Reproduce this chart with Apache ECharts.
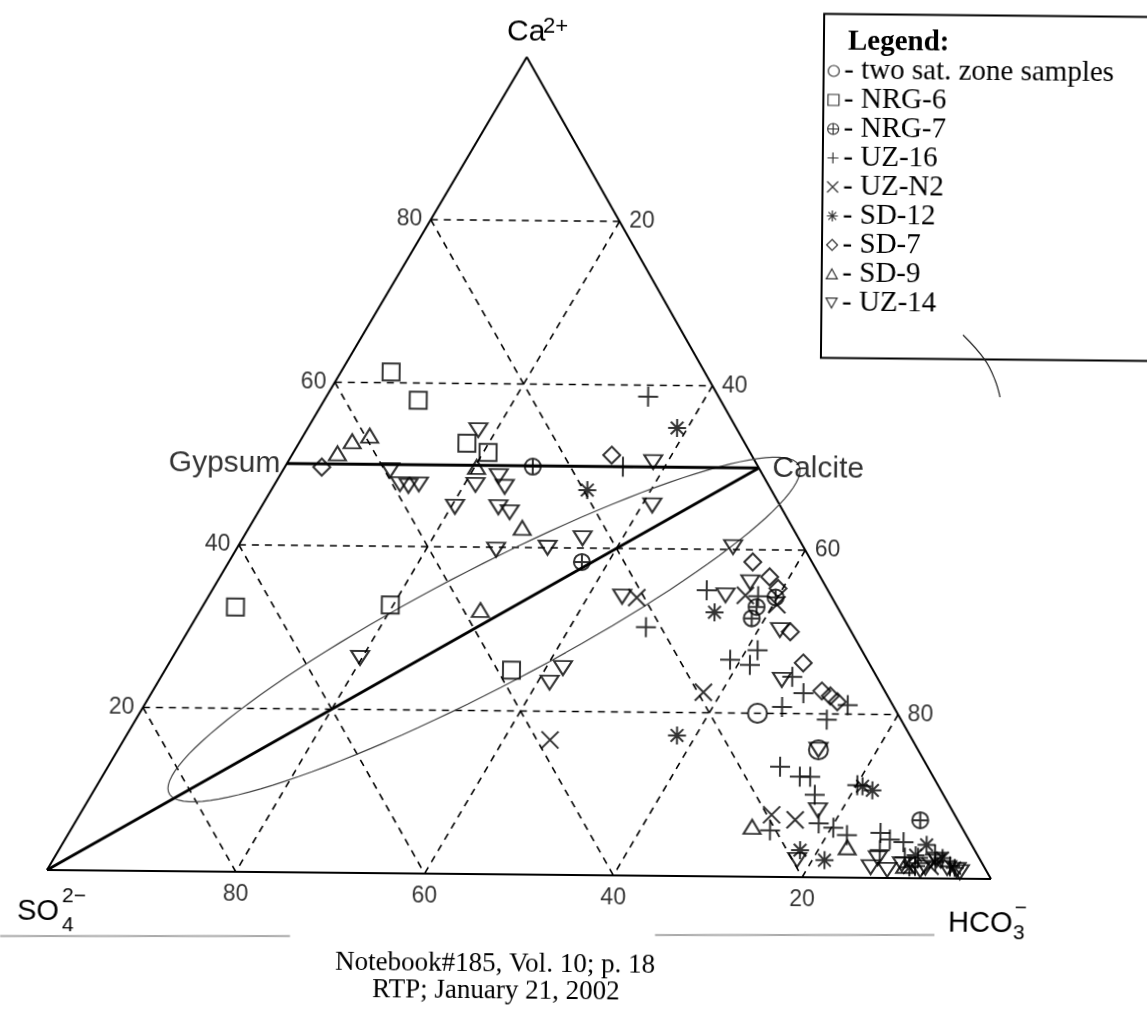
<!DOCTYPE html>
<html><head><meta charset="utf-8">
<script src="https://cdn.jsdelivr.net/npm/echarts@6/dist/echarts.min.js"></script>
<style>html,body{margin:0;padding:0;background:#fff;overflow:hidden}
#c{width:1147px;height:1010px;transform:rotate(0.546deg);transform-origin:47px 870px}</style>
</head><body><div id="c"></div>
<script>
// ---- data: ternary triples [Ca, SO4, HCO3] in % ----
const gridLevels = [20, 40, 60, 80];
const leftTickLabels = ['20', '40', '60', '80'];   // Ca on the left edge
const rightTickLabels = ['20', '40', '60', '80'];  // HCO3 on the right edge
const bottomTickLabels = ['20', '40', '60', '80']; // SO4 on the base
const seriesNames = ['two sat. zone samples', 'NRG-6', 'NRG-7', 'UZ-16', 'UZ-N2', 'SD-12', 'SD-7', 'SD-9', 'UZ-14'];
const satZone = [[20.0,14.9,65.1],[15.6,10.6,73.8]];
const nrg6 = [[61.3,33.4,5.3],[57.9,32.2,9.9],[52.7,29.6,17.7],[51.6,27.9,20.5],[32.4,64.1,3.5],[32.8,47.5,19.7],[25.0,38.5,36.5]];
const nrg7 = [[49.9,24.0,26.1],[38.3,24.5,37.2],[34.2,6.0,59.8],[33.0,8.6,58.4],[31.6,9.8,58.6],[7.1,4.0,88.9]];
const uz16 = [[58.6,7.5,33.9],[50.0,14.4,35.6],[30.4,21.6,48.0],[35.0,12.9,52.1],[34.3,7.8,57.9],[27.7,11.1,61.2],[26.5,14.6,58.9],[25.9,12.8,61.3],[24.5,9.0,66.5],[22.5,8.8,68.7],[20.8,11.9,67.3],[21.1,4.8,74.1],[19.3,7.9,72.8],[13.5,15.7,70.8],[12.3,14.2,73.5],[12.3,13.1,74.6],[10.1,13.7,76.2],[6.6,15.0,78.4],[5.7,20.6,73.7],[6.1,13.7,80.2],[5.2,12.7,82.1],[11.3,8.6,80.1],[5.5,9.0,85.5],[4.7,8.4,86.9],[4.4,7.1,88.5],[3.4,10.1,86.5],[2.5,6.5,91.0],[2.9,4.5,92.6],[2.5,7.9,89.6],[1.5,7.3,91.2],[1.5,3.6,94.9]];
const uzN2 = [[34.0,20.8,45.2],[22.5,19.4,58.1],[16.5,38.6,44.9],[34.4,9.1,56.5],[7.6,19.5,72.9],[7.0,17.3,75.7],[33.3,6.3,60.4],[1.5,5.7,92.8]];
const sd12 = [[54.8,6.3,38.9],[47.1,19.6,33.3],[32.3,13.4,54.3],[17.2,24.8,58.0],[11.2,8.1,80.7],[10.7,7.3,82.0],[3.3,18.6,78.1],[2.1,16.6,81.3],[4.1,4.8,91.1],[2.0,4.9,93.1],[1.3,8.0,90.7],[2.8,6.6,90.6],[2.5,3.9,93.6],[1.3,3.2,95.5]];
const sd7 = [[49.6,46.5,3.9],[51.4,14.9,33.7],[38.5,6.3,55.2],[36.7,5.4,57.9],[30.0,6.5,63.5],[26.2,7.0,66.8],[22.8,6.7,70.5],[22.2,6.1,71.7],[21.5,5.7,72.8],[35.3,5.2,59.5]];
const sd9 = [[51.3,44.0,4.7],[52.8,41.7,5.5],[53.5,39.5,7.0],[49.8,30.0,20.2],[42.4,28.8,28.8],[32.3,38.2,29.5],[6.1,22.3,71.6],[3.7,13.4,82.9],[1.5,8.4,90.1]];
const uz14 = [[54.3,27.6,18.1],[49.3,39.4,11.3],[47.6,39.2,13.2],[47.4,38.4,14.2],[47.6,37.2,15.2],[47.6,31.2,21.2],[48.7,28.2,23.1],[47.4,28.2,24.4],[44.9,34.7,20.4],[44.9,30.1,25.0],[44.3,29.2,26.5],[39.7,32.9,27.4],[40.0,27.3,32.7],[41.2,23.0,35.8],[50.6,10.9,38.5],[45.3,13.6,41.1],[34.1,22.3,43.6],[26.3,53.9,19.8],[25.3,32.9,41.8],[23.5,35.2,41.3],[40.3,7.5,52.2],[36.0,7.8,56.2],[34.4,11.2,54.4],[30.2,7.5,62.3],[24.1,10.3,65.6],[15.6,10.6,73.8],[8.2,14.3,77.5],[2.1,19.5,78.4],[1.3,12.1,86.6],[1.0,10.5,88.5],[1.7,8.6,89.7],[1.0,7.0,92.0],[2.3,4.6,93.1],[1.3,4.0,94.7],[1.1,3.1,95.8],[2.4,10.8,86.8],[1.3,6.3,92.4],[0.8,2.9,96.3]];
const vertexSO4 = [0,100,0], vertexHCO3 = [0,0,100], vertexCa = [100,0,0];
const gypsum = [50,50,0], calcite = [50,0,50];
const ellipseCenter = [29.93,38.99,31.08], ellipseTip = [49.74,-4.23,54.49], ellipseSide = [21.80,42.98,35.22];

// ---- helpers ----
const SQ = Math.sqrt(3) / 2;
function tern(p) { const s = p[0] + p[1] + p[2]; const c = p[0] * 100 / s, h = p[2] * 100 / s; return [h + c / 2, c * SQ]; }
function seg(a, b, style, z) {
  return { type: 'line', silent: true, symbol: 'none', z: z || 2, data: [tern(a), tern(b)], lineStyle: style, animation: false };
}
const dashStyle = { color: '#000', width: 1.6, type: [7, 6] };
const edgeStyle = { color: '#000', width: 2 };
const thickStyle = { color: '#000', width: 2.8 };
const hidden = { color: 'rgba(0,0,0,0)', borderWidth: 0 };

const series = [];
series.push(seg(vertexSO4, vertexHCO3, edgeStyle, 3), seg(vertexHCO3, vertexCa, edgeStyle, 3), seg(vertexCa, vertexSO4, edgeStyle, 3));
gridLevels.forEach(L => {
  series.push(seg([L, 100 - L, 0], [L, 0, 100 - L], dashStyle));
  series.push(seg([100 - L, L, 0], [0, L, 100 - L], dashStyle));
  series.push(seg([100 - L, 0, L], [0, 100 - L, L], dashStyle));
});
series.push(seg(gypsum, calcite, thickStyle, 4), seg(vertexSO4, calcite, thickStyle, 4));
(function () {
  const c = tern(ellipseCenter), p = tern(ellipseTip), q = tern(ellipseSide);
  const U = [p[0] - c[0], p[1] - c[1]], V = [q[0] - c[0], q[1] - c[1]];
  const pts = [];
  for (let k = 0; k <= 120; k++) { const t = k / 120 * 2 * Math.PI; pts.push([c[0] + U[0] * Math.cos(t) + V[0] * Math.sin(t), c[1] + U[1] * Math.cos(t) + V[1] * Math.sin(t)]); }
  series.push({ type: 'line', silent: true, symbol: 'none', z: 3, data: pts, lineStyle: { color: '#444', width: 1.2 }, animation: false });
})();

const tickFont = { fontFamily: 'Liberation Sans', fontSize: 23, color: '#000' };
function tickSeries(points, labels, pos, dist) {
  return { type: 'scatter', silent: true, symbolSize: 1, itemStyle: hidden, z: 5,
    data: points.map((p, i) => ({ value: tern(p), label: { formatter: labels[i] } })),
    label: Object.assign({ show: true, position: pos, distance: dist }, tickFont) };
}
series.push(tickSeries(gridLevels.map(L => [L, 100 - L, 0]), leftTickLabels, 'left', 8));
series.push(tickSeries(gridLevels.map(L => [100 - L, 0, L]), rightTickLabels, 'right', 9));
series.push(tickSeries(gridLevels.map(L => [0, L, 100 - L]), bottomTickLabels, 'bottom', 11));
series.push({ type: 'scatter', silent: true, symbolSize: 1, itemStyle: hidden, z: 5,
  data: [
    { value: tern(gypsum), label: { formatter: 'Gypsum', position: 'left', distance: 6 } },
    { value: tern(calcite), label: { formatter: 'Calcite', position: 'right', distance: 13 } }
  ],
  label: { show: true, fontFamily: 'Liberation Sans', fontSize: 30, color: '#000' } });

const symbols = [
  ['circle', 19], ['rect', 17],
  ['path://M0,5A5,5 0 1,1 10,5A5,5 0 1,1 0,5ZM0,5L10,5M5,0L5,10', 16],
  ['path://M0,5L10,5M5,0L5,10', 20],
  ['path://M0,0L10,10M10,0L0,10', 17],
  ['path://M5,0L5,10M0,5L10,5M1.5,1.5L8.5,8.5M8.5,1.5L1.5,8.5', 18],
  ['path://M5,0L10,5L5,10L0,5Z', 17],
  ['path://M5,0L10,9L0,9Z', [17, 14]],
  ['path://M0,0L10,0L5,9Z', [18, 14]]
];
const sampleData = [satZone, nrg6, nrg7, uz16, uzN2, sd12, sd7, sd9, uz14];
sampleData.forEach((arr, i) => {
  series.push({ type: 'scatter', name: seriesNames[i], symbol: symbols[i][0], symbolSize: symbols[i][1], z: 6,
    data: arr.map(tern), itemStyle: { color: 'rgba(0,0,0,0)', borderColor: '#000', borderWidth: 2 },
    emphasis: { disabled: true } });
});

const serif = '"Liberation Serif", "Times New Roman", serif';
const sans = '"Liberation Sans", Arial, sans-serif';
function txt(text, x, y, size, family, opts) {
  return { type: 'text', silent: true, z: 10,
    style: Object.assign({ text, x, y, fontSize: size, fontFamily: family, fill: '#000', align: 'left', verticalAlign: 'middle', textAlign: 'left', textVerticalAlign: 'middle' }, opts || {}) };
}
const graphic = [
  { type: 'rect', silent: true, shape: { x: 816, y: 6.6, width: 400, height: 344 }, style: { fill: 'none', stroke: '#000', lineWidth: 2 } },
  txt('Legend:', 840, 34.4, 29, serif, { fontWeight: 'bold' }),
  txt('Ca', 499, 28, 30, sans),
  txt('2+', 535, 22, 22, sans),
  txt('SO', 17.4, 912.3, 29, sans),
  txt('4', 62.5, 925.4, 21, sans),
  txt('2\u2212', 62.3, 895.9, 21, sans),
  txt('HCO', 948.5, 915.4, 29, sans),
  txt('3', 1013.6, 923.8, 21, sans),
  txt('\u2212', 1015, 899, 21, sans),
  txt('Notebook#185, Vol. 10; p. 18', 496, 959.7, 27, serif, { align: 'center', textAlign: 'center' }),
  txt('RTP; January 21, 2002', 497, 986.7, 27, serif, { align: 'center', textAlign: 'center' }),
  { type: 'polyline', silent: true, shape: { points: [[0.6, 936.4], [290.6, 933.7]] }, style: { stroke: '#aaa', lineWidth: 2 } },
  { type: 'polyline', silent: true, shape: { points: [[655.6, 929.2], [935, 926.5]] }, style: { stroke: '#aaa', lineWidth: 2 } },
  { type: 'polyline', silent: true, shape: { points: [[957.9, 326.3], [980.1, 351.1], [990.3, 371], [995.5, 388.1]], smooth: 0.4 }, style: { stroke: '#222', lineWidth: 1.2, fill: 'none' } }
];

const chart = echarts.init(document.getElementById('c'), null, { renderer: 'canvas' });
chart.setOption({
  animation: false,
  backgroundColor: '#fff',
  grid: { left: 47, top: 52.5, width: 944, height: 817.5 },
  xAxis: { type: 'value', min: 0, max: 100, show: false },
  yAxis: { type: 'value', min: 0, max: 100 * SQ, show: false },
  legend: { data: seriesNames, orient: 'vertical', left: 820, top: 49, padding: 0, itemGap: 0,
    itemWidth: 11, itemHeight: 11, selectedMode: false, formatter: '- {name}',
    itemStyle: { borderWidth: 1.2 },
    textStyle: { fontFamily: 'Liberation Serif', fontSize: 29, color: '#000', lineHeight: 27.5 } },
  tooltip: { show: false },
  graphic: graphic,
  series: series
});
</script></body></html>
